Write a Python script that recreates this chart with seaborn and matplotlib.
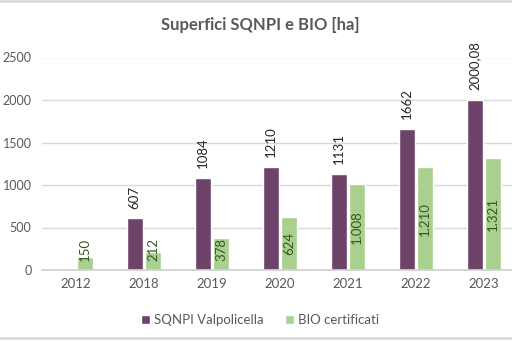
import numpy as np
import pandas as pd
import matplotlib
matplotlib.use("Agg")
import matplotlib.pyplot as plt
from matplotlib.lines import Line2D
import seaborn as sns

years = ["2012", "2018", "2019", "2020", "2021", "2022", "2023"]
sqnpi = [np.nan, 607, 1084, 1210, 1131, 1662, 2000.08]
bio = [150, 212, 378, 624, 1008, 1210, 1321]
sqnpi_labels = ["", "607", "1084", "1210", "1131", "1662", "2000,08"]
bio_labels = ["150", "212", "378", "624", "1.008", "1.210", "1.321"]
series = ["SQNPI Valpolicella", "BIO certificati"]
title = "Superfici SQNPI e BIO [ha]"
yticks = [0, 500, 1000, 1500, 2000, 2500]

purple = "#6d4369"
green = "#a9d08e"

sns.set_theme(style="white")
plt.rcParams["font.family"] = ["Lato", "DejaVu Sans"]

rows = []
for y, a, b in zip(years, sqnpi, bio):
    rows.append({"year": y, "series": series[0], "value": a})
    rows.append({"year": y, "series": series[1], "value": b})
df = pd.DataFrame(rows).dropna()

fig = plt.figure(figsize=(5.12, 3.41), dpi=100)
W, H = 512, 341
ax = fig.add_axes([42 / W, (H - 270) / H, (518 - 42) / W, 212.5 / H])

sns.barplot(data=df, x="year", y="value", hue="series", order=years,
            hue_order=series, palette=[purple, green], width=0.55, gap=0.16,
            ax=ax, legend=True, saturation=1)

ax.set_ylim(0, 2500)
ax.set_xlim(-0.5, len(years) - 0.5)
ax.set_yticks(yticks)
ax.set_yticklabels([str(t) for t in yticks])
ax.yaxis.grid(True, color="#d9d9d9", linewidth=1)
ax.set_axisbelow(True)
for s in ["top", "right", "left"]:
    ax.spines[s].set_visible(False)
ax.spines["bottom"].set_color("#d0d0d0")
ax.tick_params(axis="x", length=0, colors="#595959", labelsize=9.5, pad=6)
ax.tick_params(axis="y", length=0, colors="#595959", labelsize=9, pad=7.5)
ax.set_xlabel("")
ax.set_ylabel("")

# value labels
cont_p, cont_g = ax.containers[0], ax.containers[1]
purple_labels = [l for l in sqnpi_labels if l]
for bar, lab in zip(cont_p, purple_labels):
    x = bar.get_x() + bar.get_width() / 2
    ax.annotate(lab, (x, bar.get_height()), xytext=(0, 7), textcoords="offset points",
                rotation=90, ha="center", va="bottom", fontsize=9.5, color="#262626")
for bar, lab in zip(cont_g, bio_labels):
    x = bar.get_x() + bar.get_width() / 2
    yc = max(bar.get_height() / 2, 240)
    ax.text(x, yc, lab, rotation=90, ha="center", va="center", fontsize=9.5,
            color="#375623")

leg = ax.legend(loc="center", bbox_to_anchor=(260 / W, (H - 320) / H),
                bbox_transform=fig.transFigure, ncol=2, frameon=False,
                handlelength=0.7, handleheight=0.7, handletextpad=0.3,
                columnspacing=1.6, fontsize=9.5)
for t in leg.get_texts():
    t.set_color("#595959")

fig.text(260 / W, (H - 25) / H, title, ha="center", va="center",
         fontsize=12, color="#595959", fontweight="bold")

fig.add_artist(Line2D([0, 1], [1 - 1 / H, 1 - 1 / H], color="#d9d9d9", lw=2,
                      transform=fig.transFigure))
fig.add_artist(Line2D([0, 1], [(H - 338) / H, (H - 338) / H], color="#d9d9d9", lw=2,
                      transform=fig.transFigure))

fig.savefig("out.png", dpi=100)
